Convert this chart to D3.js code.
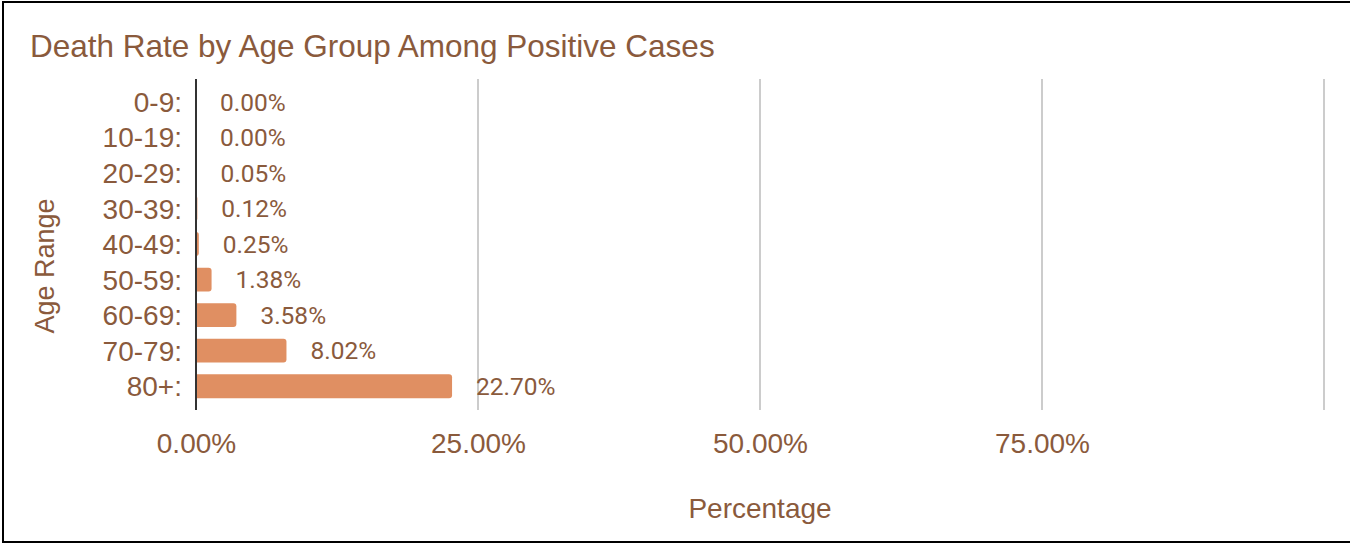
<!DOCTYPE html>
<html>
<head>
<meta charset="utf-8">
<script src="https://cdn.jsdelivr.net/npm/d3@7"></script>
<style>
    body { margin: 0; background: #fff; }
    svg { display: block; }
</style>
</head>
<body>
<div id="chart"></div>
<script>
const ageGroups = ['0-9', '10-19', '20-29', '30-39', '40-49', '50-59', '60-69', '70-79', '80+'];
const deathRates = [0.0, 0.0, 0.05, 0.12, 0.25, 1.38, 3.58, 8.02, 22.7];
const xTicks = [0, 25, 50, 75];
const gridValues = [0, 25, 50, 75, 100];

const width = 1350;
const height = 545;
const margin = { top: 79, right: 26, bottom: 135, left: 196 };
const textColor = '#8a5a3c';
const barColor = '#e08f62';
const sansFont = "'Liberation Sans', Arial, sans-serif";

const svg = d3
    .select('#chart')
    .append('svg')
    .attr('width', width)
    .attr('height', height);

// frame
svg.append('rect')
    .attr('x', 3)
    .attr('y', 2)
    .attr('width', width)
    .attr('height', 540)
    .attr('fill', 'none')
    .attr('stroke', '#000')
    .attr('stroke-width', 2);

svg.append('text')
    .attr('x', 30)
    .attr('y', 57)
    .attr('font-family', sansFont)
    .attr('font-size', '31.5px')
    .attr('fill', textColor)
    .text('Death Rate by Age Group Among Positive Cases');

const plotBottom = height - margin.bottom;

const xScale = d3
    .scaleLinear()
    .domain([0, 100])
    .range([margin.left, width - margin.right]);

const yScale = d3
    .scaleBand()
    .domain(ageGroups)
    .range([margin.top + 5, plotBottom - 6])
    .paddingInner(0.33)
    .paddingOuter(0.165);

// gridlines
svg.append('g')
    .selectAll('line')
    .data(gridValues.slice(1))
    .join('line')
    .attr('x1', (d) => xScale(d))
    .attr('x2', (d) => xScale(d))
    .attr('y1', margin.top)
    .attr('y2', plotBottom)
    .attr('stroke', '#cccccc')
    .attr('stroke-width', 2);

// bars with rounded right ends
const r = 3;
svg.append('g')
    .selectAll('path')
    .data(deathRates)
    .join('path')
    .attr('fill', barColor)
    .attr('d', (d, i) => {
        const x0 = xScale(0);
        const w = xScale(d) - x0;
        const y0 = yScale(ageGroups[i]);
        const h = yScale.bandwidth();
        if (w <= 0) return '';
        const rr = Math.min(r, w);
        return `M${x0},${y0}H${x0 + w - rr}Q${x0 + w},${y0} ${x0 + w},${y0 + rr}` +
            `V${y0 + h - rr}Q${x0 + w},${y0 + h} ${x0 + w - rr},${y0 + h}H${x0}Z`;
    });

// zero axis line
svg.append('line')
    .attr('x1', xScale(0))
    .attr('x2', xScale(0))
    .attr('y1', margin.top)
    .attr('y2', plotBottom)
    .attr('stroke', '#333')
    .attr('stroke-width', 2);

// data labels
svg.append('g')
    .selectAll('text')
    .data(deathRates)
    .join('text')
    .attr('x', (d) => xScale(d) + 24)
    .attr('y', (d, i) => yScale(ageGroups[i]) + yScale.bandwidth() / 2)
    .attr('dy', '0.36em')
    .attr('font-family', 'Roboto, sans-serif')
    .attr('font-size', '24.5px')
    .attr('fill', textColor)
    .text((d) => d.toFixed(2) + '%');

// y axis labels
const yAxis = svg.append('g')
    .attr('transform', `translate(${margin.left - 14}, 0)`)
    .call(d3.axisLeft(yScale).tickSize(0).tickPadding(0).tickFormat((d) => d + ':'));
yAxis.select('.domain').remove();
yAxis.selectAll('text')
    .attr('font-family', sansFont)
    .attr('font-size', '28px')
    .attr('fill', textColor)
    .attr('dy', '0.36em');

// x axis labels
const xAxis = svg.append('g')
    .attr('transform', `translate(0, ${plotBottom + 20})`)
    .call(d3.axisBottom(xScale).tickValues(xTicks).tickSize(0).tickPadding(0)
        .tickFormat((d) => d.toFixed(2) + '%'));
xAxis.select('.domain').remove();
xAxis.selectAll('text')
    .attr('font-family', sansFont)
    .attr('font-size', '28px')
    .attr('fill', textColor)
    .attr('dy', '0.82em');

svg.append('text')
    .attr('x', xScale(50))
    .attr('y', 518)
    .attr('text-anchor', 'middle')
    .attr('font-family', sansFont)
    .attr('font-size', '28px')
    .attr('fill', textColor)
    .text('Percentage');

svg.append('text')
    .attr('transform', `translate(54, 266) rotate(-90)`)
    .attr('text-anchor', 'middle')
    .attr('font-family', sansFont)
    .attr('font-size', '27px')
    .attr('fill', textColor)
    .text('Age Range');
</script>
</body>
</html>
